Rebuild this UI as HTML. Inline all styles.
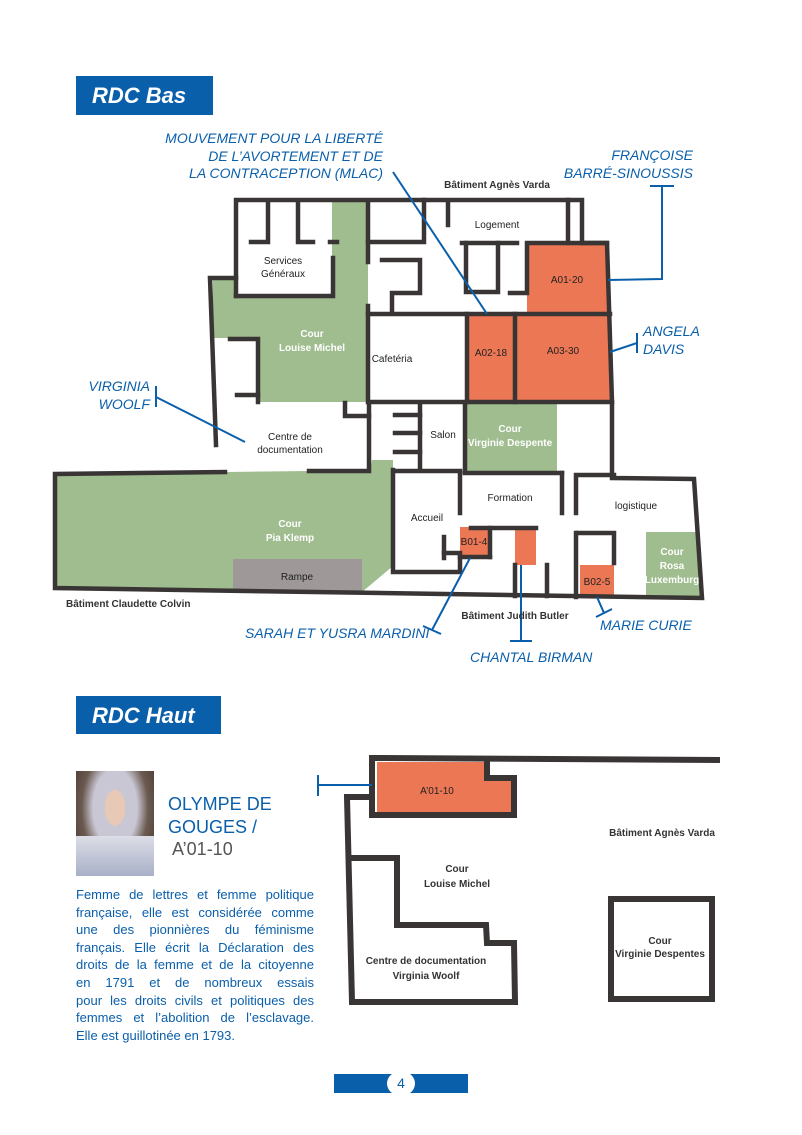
<!DOCTYPE html>
<html><head><meta charset="utf-8"><style>
body{margin:0;background:#fff;width:802px;height:1135px;overflow:hidden;position:relative;font-family:"Liberation Sans",sans-serif}
.hdr{position:absolute;background:#0a5fab;color:#fff;font-weight:bold;font-style:italic;font-size:22px;line-height:39px;padding-left:16px;box-sizing:border-box}
svg{position:absolute;left:0;top:0}
.p{position:absolute;left:76px;top:886px;width:238px;color:#0a5fab;font-size:13px;line-height:17.6px}
.p span{display:block;text-align:justify;text-align-last:justify;white-space:nowrap}
.p span.l{text-align-last:left}
</style></head><body>
<div class="hdr" style="left:76px;top:76px;width:137px;height:39px">RDC Bas</div>
<div class="hdr" style="left:76px;top:696px;width:145px;height:38px">RDC Haut</div>
<div style="position:absolute;left:76px;top:771px;width:78px;height:105px;background:radial-gradient(ellipse at 50% 35%,#e8c9b5 0 18%,#c9c7d4 19% 40%,#6b5a50 60%,#3c2c26 100%)"></div>
<div style="position:absolute;left:76px;top:836px;width:78px;height:40px;background:linear-gradient(#dcdde6,#a9b0c8)"></div>
<div style="position:absolute;left:168px;top:793px;color:#0a5fab;font-size:18px;line-height:23px">OLYMPE DE<br>GOUGES /</div>
<div style="position:absolute;left:172px;top:839px;color:#555;font-size:18px">A’01-10</div>
<div class="p"><span>Femme de lettres et femme politique</span><span>française, elle est considérée comme</span><span>une des pionnières du féminisme</span><span>français. Elle écrit la Déclaration des</span><span>droits de la femme et de la citoyenne</span><span>en 1791 et de nombreux essais</span><span>pour les droits civils et politiques des</span><span>femmes et l’abolition de l’esclavage.</span><span class="l">Elle est guillotinée en 1793.</span></div>
<div style="position:absolute;left:334px;top:1074px;width:134px;height:19px;background:#0a5fab"></div>
<div style="position:absolute;left:387px;top:1072px;width:28px;height:23px;background:#fff;border-radius:12px;text-align:center;font-size:14px;line-height:23px;color:#0a5fab">4</div>

<svg width="802" height="1135" viewBox="0 0 802 1135" font-family="Liberation Sans Narrow, Liberation Sans, sans-serif">
<g>
<polygon fill="#a0bd8f" points="332,202 368,202 368,402 258,402 258,338 213,338 213,280 236,280 236,296 332,296"/>
<polygon fill="#a0bd8f" points="55,474 225,472 309,471 370,470 372,460 393,460 393,566 362,592 55,590"/>
<rect x="233" y="559" width="129" height="34" fill="#9e9898"/>
<rect x="467" y="403" width="90" height="70" fill="#a0bd8f"/>
<rect x="646" y="532" width="54" height="64" fill="#a0bd8f"/>
<rect x="527" y="243" width="80" height="71" fill="#ec7755"/>
<rect x="467" y="314" width="48" height="88" fill="#ec7755"/>
<rect x="515" y="314" width="95" height="88" fill="#ec7755"/>
<rect x="460" y="527" width="30" height="30" fill="#ec7755"/>
<rect x="515" y="528" width="21" height="37" fill="#ec7755"/>
<rect x="580" y="565" width="34" height="32" fill="#ec7755"/>
<polygon fill="#ec7755" points="377,762 487,762 487,778 513,778 513,815 377,815"/>
</g>
<g stroke="#3a3535" stroke-width="4.5" fill="none" stroke-linecap="square">
<polyline points="236,296 236,200 582,200 582,243 607,243 612,402 612,478 694,479 702,598 55,588 55,474 225,472"/>
<polyline points="236,278 210,278 216,445"/>
<polyline points="309,471 369,471 369,403"/>
<polyline points="345,403 345,416 369,416"/>
<polyline points="236,296 333,296 333,258"/>
<polyline points="268,202 268,242 251,242"/>
<polyline points="298,202 298,242 313,242"/>
<line x1="330" y1="242" x2="337" y2="242"/>
<polyline points="368,202 368,262"/><polyline points="368,306 368,402 612,402"/>
<polyline points="424,200 424,242 368,242"/>
<polyline points="382,260 420,260 420,293 392,293 392,313"/>
<line x1="368" y1="314" x2="610" y2="314"/>
<line x1="467" y1="314" x2="467" y2="402"/><line x1="515" y1="314" x2="515" y2="402"/>
<line x1="448" y1="202" x2="448" y2="225"/>
<polyline points="462,243 517,243"/>
<polyline points="466,243 466,292 498,292 498,243"/>
<polyline points="510,293 527,293 527,243 607,243"/>
<line x1="568" y1="200" x2="568" y2="243"/>
<polyline points="230,339 258,339 258,402"/><line x1="237" y1="395" x2="258" y2="395"/>
<line x1="420" y1="403" x2="420" y2="470"/>
<line x1="395" y1="415" x2="420" y2="415"/><line x1="395" y1="433" x2="420" y2="433"/><line x1="395" y1="452" x2="420" y2="452"/>
<line x1="395" y1="471" x2="460" y2="471"/>
<line x1="465" y1="403" x2="465" y2="472"/>
<line x1="460" y1="473" x2="460" y2="513"/>
<line x1="465" y1="473" x2="562" y2="473"/><line x1="562" y1="473" x2="562" y2="513"/>
<polyline points="576,513 576,475 614,475"/>
<line x1="576" y1="533" x2="576" y2="597"/>
<polyline points="578,533 614,533 614,563"/>
<polyline points="471,528 536,528"/><line x1="490" y1="528" x2="490" y2="557"/>
<polyline points="444,553 460,553"/><line x1="444" y1="537" x2="444" y2="558"/>
<polyline points="460,557 490,557"/>
<line x1="515" y1="565" x2="515" y2="596"/><line x1="547" y1="565" x2="547" y2="596"/>
<polyline points="393,470 393,572 460,572 460,557"/>
</g>
<g stroke="#3a3535" stroke-width="6" fill="none" stroke-linecap="square">
<polyline points="372,815 372,758 717,760"/>
<polyline points="372,815 514,815 514,778 487,778 487,762"/>
<polyline points="372,797 347,797 352,1002 515,1002 514,943 487,943 486,925 397,925 397,858 350,858"/>
<rect x="611" y="899" width="101" height="100"/>
</g>
<g stroke="#0a5fab" stroke-width="2" fill="none">
<line x1="393" y1="172" x2="487" y2="314"/>
<polyline points="650,186 674,186"/><polyline points="662,186 662,279 608,280"/>
<line x1="637" y1="333" x2="637" y2="353"/><line x1="637" y1="343" x2="610" y2="352"/>
<line x1="156" y1="386" x2="156" y2="407"/><line x1="156" y1="397" x2="245" y2="442"/>
<line x1="470" y1="558" x2="432" y2="630"/><line x1="423" y1="626" x2="441" y2="634"/>
<line x1="521" y1="565" x2="521" y2="641"/><line x1="510" y1="641" x2="532" y2="641"/>
<line x1="597" y1="597" x2="604" y2="613"/><line x1="596" y1="617" x2="612" y2="609"/>
<line x1="318" y1="775" x2="318" y2="796"/><line x1="318" y1="785" x2="372" y2="785"/>
</g>
<g fill="#0a5fab" font-family="Liberation Sans, sans-serif" font-style="italic" font-size="14">
<text x="383" y="143" text-anchor="end">MOUVEMENT POUR LA LIBERTÉ</text>
<text x="383" y="161" text-anchor="end">DE L’AVORTEMENT ET DE</text>
<text x="383" y="178" text-anchor="end">LA CONTRACEPTION (MLAC)</text>
<text x="693" y="160" text-anchor="end">FRANÇOISE</text>
<text x="693" y="178" text-anchor="end">BARRÉ-SINOUSSIS</text>
<text x="643" y="336">ANGELA</text><text x="643" y="354">DAVIS</text>
<text x="150" y="391" text-anchor="end">VIRGINIA</text><text x="150" y="409" text-anchor="end">WOOLF</text>
<text x="245" y="638">SARAH ET YUSRA MARDINI</text>
<text x="470" y="662">CHANTAL BIRMAN</text>
<text x="600" y="630">MARIE CURIE</text>
</g>
<g fill="#222" font-size="10" text-anchor="middle">
<text x="497" y="228">Logement</text>
<text x="283" y="264">Services</text><text x="283" y="277">Généraux</text>
<text x="567" y="283">A01-20</text>
<text x="392" y="362">Cafetéria</text>
<text x="491" y="356">A02-18</text>
<text x="563" y="354">A03-30</text>
<text x="290" y="440">Centre de</text><text x="290" y="453">documentation</text>
<text x="443" y="438">Salon</text>
<text x="510" y="501">Formation</text>
<text x="636" y="509">logistique</text>
<text x="427" y="521">Accueil</text>
<text x="474" y="545">B01-4</text>
<text x="297" y="580">Rampe</text>
<text x="597" y="585">B02-5</text>
<text x="437" y="794">A’01-10</text>
</g>
<g fill="#fff" font-size="10" font-weight="bold" text-anchor="middle">
<text x="312" y="337">Cour</text><text x="312" y="351">Louise Michel</text>
<text x="510" y="432">Cour</text><text x="510" y="446">Virginie Despente</text>
<text x="290" y="527">Cour</text><text x="290" y="541">Pia Klemp</text>
<text x="672" y="555">Cour</text><text x="672" y="569">Rosa</text><text x="672" y="583">Luxemburg</text>
</g>
<g fill="#333" font-size="10" font-weight="bold">
<text x="497" y="188" text-anchor="middle">Bâtiment Agnès Varda</text>
<text x="66" y="607">Bâtiment Claudette Colvin</text>
<text x="515" y="619" text-anchor="middle">Bâtiment Judith Butler</text>
<text x="662" y="836" text-anchor="middle">Bâtiment Agnès Varda</text>
<text x="457" y="872" text-anchor="middle">Cour</text><text x="457" y="887" text-anchor="middle">Louise Michel</text>
<text x="426" y="964" text-anchor="middle">Centre de documentation</text><text x="426" y="979" text-anchor="middle">Virginia Woolf</text>
<text x="660" y="944" text-anchor="middle">Cour</text><text x="660" y="957" text-anchor="middle">Virginie Despentes</text>
</g>
</svg>
</body></html>
